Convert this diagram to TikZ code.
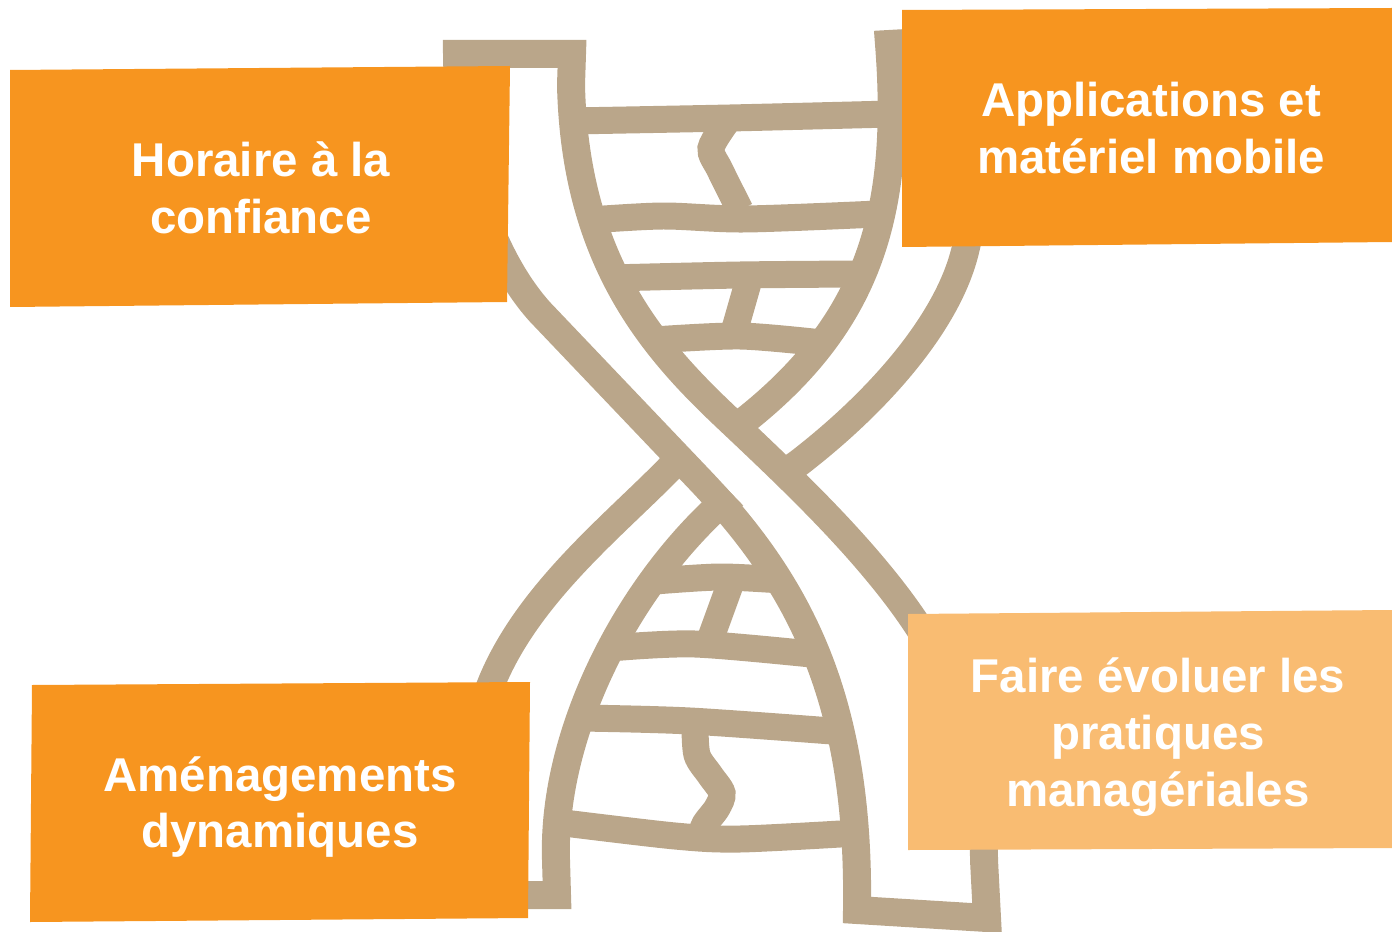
\documentclass[tikz,border=0pt]{standalone}
\usepackage{fontspec}
\setmainfont{Liberation Sans}
\definecolor{helix}{RGB}{186,166,138}
\definecolor{orangebox}{RGB}{247,149,31}
\definecolor{paleorange}{RGB}{249,188,114}
\tikzset{
	strand/.style={draw=helix, line width=0.56cm},
	rung/.style={draw=helix, line width=0.54cm},
	boxtext/.style={text=white, font=\bfseries\fontsize{27}{32.4}\selectfont, align=center}
}

\begin{document}
\begin{tikzpicture}[x=0.02cm, y=-0.02cm]
				\useasboundingbox (0,0) rectangle (1392,932);
				
				\draw[strand] (995,38) -- (889,44) .. controls (902,210) and (870,320) .. (748,418) .. controls (720,440) and (700,440) .. (670,468) .. controls (600,540) and (480,630) .. (474,760) -- (474,895) -- (557,895) -- (556,860) .. controls (552,740) and (620,600) .. (712,512) .. controls (735,485) and (770,485) .. (800,462) .. controls (880,400) and (950,320) .. (966,247) -- (990,150) -- cycle;
				
				\draw[white, line width=0.8cm] (655,385) -- (790,525);
				
				\draw[strand] (572,54) -- (457,54) .. controls (458,170) and (495,262) .. (540,312) -- (700,480) .. controls (800,585) and (860,700) .. (857,910) -- (987,918) -- (984,860) .. controls (984,740) and (950,660) .. (880,575) .. controls (835,520) and (780,468) .. (727,418) .. controls (655,350) and (575,262) .. (571,85) -- cycle;
				
				\draw[rung] plot[smooth] coordinates {(571,121) (730,118) (891,114)};
				\draw[rung] plot[smooth] coordinates {(728,120) (711,148) (720,170) (740,210)};
				\draw[rung] plot[smooth] coordinates {(590,220) (663,216) (745,219) (878,214)};
				\draw[rung] plot[smooth] coordinates {(610,278) (740,275) (860,274)};
				\draw[rung] (750,276) -- (734,332);
				\draw[rung] plot[smooth] coordinates {(654,340) (740,336) (822,343)};
				
				\draw[rung] plot[smooth] coordinates {(655,581) (720,577) (781,580)};
				\draw[rung] (730,585) -- (710,640);
				\draw[rung] plot[smooth] coordinates {(610,648) (695,644) (821,655)};
				\draw[rung] plot[smooth] coordinates {(580,718) (690,721) (845,732)};
				\draw[rung] plot[smooth] coordinates {(695,725) (697,755) (710,775) (722,793) (717,808) (705,824) (700,838)};
				\draw[rung] plot[smooth] coordinates {(556,822) (675,836) (740,839) (857,833)};
				
				\fill[orangebox] (10,70) -- (510,66) -- (507,302) -- (10,307) -- cycle;
				\node[boxtext] (horaire) at (261,188) {Horaire à la\\confiance};
				
				\fill[orangebox] (902,10) -- (1392,8) -- (1392,242) -- (902,247) -- cycle;
				\node[boxtext] (mobile) at (1151,128) {Applications et\\matériel mobile};
				
				\fill[orangebox] (32,685) -- (530,682) -- (528,918) -- (30,922) -- cycle;
				\node[boxtext] (amenagements) at (280,807) {Aménagements\\dynamiques};
				
				\fill[paleorange] (908,614) -- (1392,610) -- (1392,848) -- (908,850) -- cycle;
				\node[boxtext] (pratiques) at (1158,737) {Faire évoluer les\\pratiques\\managériales};
\end{tikzpicture}
\end{document}
